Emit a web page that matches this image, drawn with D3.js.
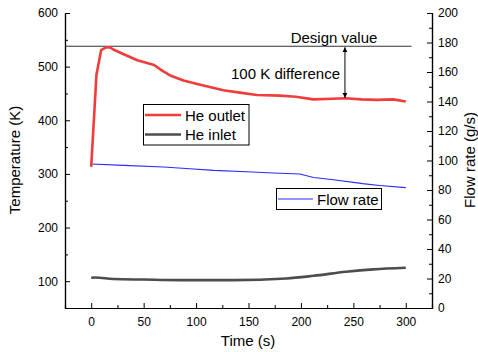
<!DOCTYPE html>
<html>
<head>
<meta charset="utf-8">
<script src="https://cdn.jsdelivr.net/npm/d3@7"></script>
<style>
  body { margin: 0; background: #fff; }
  text { font-family: "Liberation Sans", Arial, sans-serif; fill: #000; }
</style>
</head>
<body>
<svg width="478" height="352"></svg>
<script>
// He outlet temperature (K)
var outletTime = [0, 5, 9.5, 14, 18, 21, 30, 44, 60, 68, 76, 88, 102, 115, 126, 140, 158, 180, 195, 212, 230, 242, 258, 272, 288, 300];
var outletTemp = [313, 485, 531, 536, 536, 532, 524, 512, 503, 492, 483, 474, 467, 461, 456, 452, 447, 446, 444, 439, 440, 441, 439, 438, 439, 435];

// He inlet temperature (K)
var inletTime = [0, 4, 21, 50, 85, 136, 186, 212, 243, 269, 300];
var inletTemp = [106.5, 107, 104, 103, 102, 102, 105, 110, 117.5, 122, 125];

// flow rate (g/s)
var flowTime = [0, 31, 69, 94, 117, 148, 174, 199, 212, 231, 259, 275, 300];
var flowRate = [97.6, 96.7, 95.6, 94.4, 93.3, 92.4, 91.5, 90.8, 88.5, 87, 84.3, 83.1, 81.6];

var designValue = 538;
var arrowTime = 242;
var arrowLow = 440;

var xTicks = [0, 50, 100, 150, 200, 250, 300];
var yTicks = [100, 200, 300, 400, 500, 600];
var y2Ticks = [0, 20, 40, 60, 80, 100, 120, 140, 160, 180, 200];

var svg = d3.select("svg");

var x = d3.scaleLinear().domain([-25, 325]).range([65, 432]);
var y = d3.scaleLinear().domain([50, 600]).range([308, 13]);
var y2 = d3.scaleLinear().domain([0, 200]).range([308, 13]);

// axes (ticks inside)
var xAxis = d3.axisBottom(x).tickValues(xTicks).tickSizeInner(-5).tickSizeOuter(0).tickPadding(9);
var xMinor = d3.axisBottom(x).tickValues(d3.range(25, 326, 50)).tickSize(-3).tickFormat("");
var yAxis = d3.axisLeft(y).tickValues(yTicks).tickSizeInner(-5).tickSizeOuter(0).tickPadding(7);
var yMinor = d3.axisLeft(y).tickValues(d3.range(150, 600, 100)).tickSize(-3).tickFormat("");
var y2Axis = d3.axisRight(y2).tickValues(y2Ticks).tickSizeInner(-5).tickSizeOuter(0).tickPadding(6);
var y2Minor = d3.axisRight(y2).tickValues(d3.range(10, 200, 20)).tickSize(-3).tickFormat("");

function style(g) {
  g.selectAll("path").attr("stroke", "#000").attr("stroke-width", 1.2);
  g.selectAll("line").attr("stroke", "#000").attr("stroke-width", 1);
  g.selectAll("text").attr("font-size", 12).attr("font-family", "Liberation Sans, Arial, sans-serif").attr("fill", "#1a1a1a");
}

svg.append("g").attr("transform", "translate(0,308)").call(xMinor).call(style);
svg.append("g").attr("transform", "translate(0,308)").call(xAxis).call(style);
svg.append("g").attr("transform", "translate(65,0)").call(yMinor).call(style);
svg.append("g").attr("transform", "translate(65,0)").call(yAxis).call(style);
svg.append("g").attr("transform", "translate(432,0)").call(y2Minor).call(style);
svg.append("g").attr("transform", "translate(432,0)").call(y2Axis).call(style);

// design value line
svg.append("line")
  .attr("x1", x(-25)).attr("x2", x(305.5))
  .attr("y1", y(designValue)).attr("y2", y(designValue))
  .attr("stroke", "#333").attr("stroke-width", 1.2);

// lines
var line = d3.line().curve(d3.curveMonotoneX);

svg.append("path")
  .attr("d", line(inletTime.map(function(t, i) { return [x(t), y(inletTemp[i])]; })))
  .attr("fill", "none").attr("stroke", "#4d4d4d").attr("stroke-width", 2.6);

svg.append("path")
  .attr("d", d3.line()(flowTime.map(function(t, i) { return [x(t), y2(flowRate[i])]; })))
  .attr("fill", "none").attr("stroke", "#2b2bff").attr("stroke-width", 1.1);

svg.append("path")
  .attr("d", d3.line()(outletTime.map(function(t, i) { return [x(t), y(outletTemp[i])]; })))
  .attr("fill", "none").attr("stroke", "#f03c3c").attr("stroke-width", 2.6)
  .attr("stroke-linejoin", "round");

// double arrow
var defs = svg.append("defs");
defs.append("marker").attr("id", "ah").attr("viewBox", "0 0 10 10")
  .attr("refX", 10).attr("refY", 5).attr("markerWidth", 5).attr("markerHeight", 6)
  .attr("orient", "auto-start-reverse").attr("markerUnits", "userSpaceOnUse")
  .append("path").attr("d", "M0,0 L10,5 L0,10 z").attr("fill", "#000");
svg.append("line")
  .attr("x1", x(arrowTime)).attr("x2", x(arrowTime))
  .attr("y1", y(designValue) + 1).attr("y2", y(arrowLow) - 1)
  .attr("stroke", "#000").attr("stroke-width", 1)
  .attr("marker-start", "url(#ah)").attr("marker-end", "url(#ah)");

// annotations
svg.append("text").attr("x", 334).attr("y", 43).attr("text-anchor", "middle")
  .attr("font-size", 15).text("Design value");
svg.append("text").attr("x", 340).attr("y", 79).attr("text-anchor", "end")
  .attr("font-size", 15).text("100 K difference");

// legend 1
var lg = svg.append("g");
lg.append("rect").attr("x", 143.5).attr("y", 104.5).attr("width", 105.5).attr("height", 40.5)
  .attr("fill", "#fff").attr("stroke", "#000").attr("stroke-width", 1);
lg.append("line").attr("x1", 145).attr("x2", 181).attr("y1", 115).attr("y2", 115)
  .attr("stroke", "#f03c3c").attr("stroke-width", 2.6);
lg.append("text").attr("x", 185).attr("y", 120.5).attr("font-size", 15).text("He outlet");
lg.append("line").attr("x1", 145).attr("x2", 181).attr("y1", 134.5).attr("y2", 134.5)
  .attr("stroke", "#4d4d4d").attr("stroke-width", 2.6);
lg.append("text").attr("x", 185).attr("y", 140).attr("font-size", 15).text("He inlet");

// legend 2
var lg2 = svg.append("g");
lg2.append("rect").attr("x", 276.5).attr("y", 188.5).attr("width", 105).attr("height", 21)
  .attr("fill", "#fff").attr("stroke", "#000").attr("stroke-width", 1);
lg2.append("line").attr("x1", 278).attr("x2", 313).attr("y1", 199).attr("y2", 199)
  .attr("stroke", "#2b2bff").attr("stroke-width", 1.1);
lg2.append("text").attr("x", 317).attr("y", 204.5).attr("font-size", 15).text("Flow rate");

// axis titles
svg.append("text").attr("x", 248).attr("y", 346).attr("text-anchor", "middle")
  .attr("font-size", 15).text("Time (s)");
svg.append("text").attr("transform", "translate(20,160) rotate(-90)").attr("text-anchor", "middle")
  .attr("font-size", 15).text("Temperature (K)");
svg.append("text").attr("transform", "translate(475,160) rotate(-90)").attr("text-anchor", "middle")
  .attr("font-size", 15).text("Flow rate (g/s)");
</script>
</body>
</html>
